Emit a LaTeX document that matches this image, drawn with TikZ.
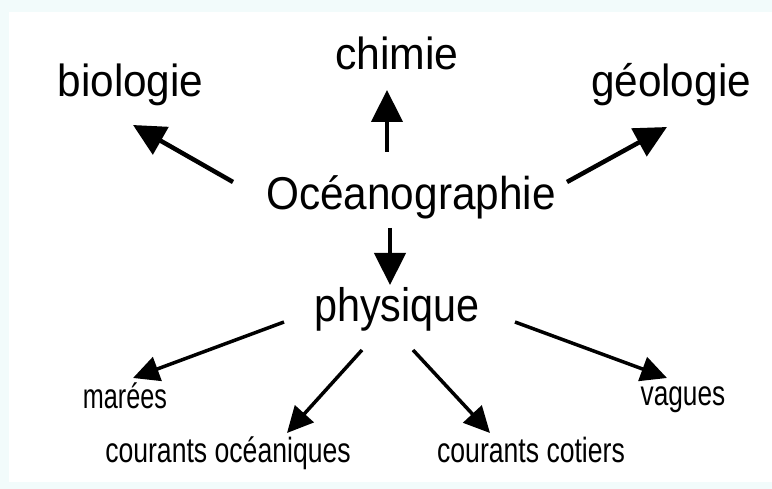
\documentclass[tikz,border=0pt]{standalone}
\usepackage{fontspec}
\setmainfont{Liberation Sans}
\usetikzlibrary{arrows.meta}
\definecolor{edgetint}{HTML}{F2FBFB}
\tikzset{
  big/.style={anchor=base, inner sep=0pt, font=\fontsize{45}{50}\selectfont},
  small/.style={anchor=base, inner sep=0pt, font=\fontsize{35}{40}\selectfont},
  bigarrow/.style={line width=4.5pt, -{Triangle[length=32pt,width=31pt]}},
  smallarrow/.style={line width=3.5pt, -{Triangle[length=26pt,width=25pt]}},
}
\begin{document}
\begin{tikzpicture}[x=1pt,y=-1pt]
\useasboundingbox (0,0) rectangle (772,489);
\fill[edgetint] (0,0) rectangle (772,489);
\fill[white] (9,12) rectangle (772,482);
% labels
\node[big] (bio) at (130.5,97) {\scalebox{0.94}[1]{biologie}};
\node[big] (chi) at (397,70) {\scalebox{0.95}[1]{chimie}};
\node[big] (geo) at (671,97) {\scalebox{0.94}[1]{géologie}};
\node[big, font=\fontsize{46}{50}\selectfont] (oc) at (411,210) {\scalebox{0.92}[1]{Océanographie}};
\node[big, font=\fontsize{47}{50}\selectfont] (phy) at (397,322) {\scalebox{0.88}[1]{physique}};
\node[small] (mar) at (125,408) {\scalebox{0.72}[1]{marées}};
\node[small] (vag) at (683,406) {\scalebox{0.75}[1]{vagues}};
\node[small] (coc) at (228,462) {\scalebox{0.76}[1]{courants océaniques}};
\node[small] (cco) at (531,462) {\scalebox{0.76}[1]{courants cotiers}};
% arrow ends
\coordinate (s1) at (233,182); \coordinate (e1) at (133,125);
\coordinate (s2) at (387,152); \coordinate (e2) at (387,90);
\coordinate (s3) at (567,182); \coordinate (e3) at (667,127);
\coordinate (s4) at (390,228); \coordinate (e4) at (390,285);
\coordinate (s5) at (284,322); \coordinate (e5) at (133,378);
\coordinate (s6) at (362,350); \coordinate (e6) at (287,433);
\coordinate (s7) at (413,350); \coordinate (e7) at (490,433);
\coordinate (s8) at (515,322); \coordinate (e8) at (667,378);
\draw[bigarrow] (s1) -- (e1);
\draw[bigarrow] (s2) -- (e2);
\draw[bigarrow] (s3) -- (e3);
\draw[bigarrow] (s4) -- (e4);
\draw[smallarrow] (s5) -- (e5);
\draw[smallarrow] (s6) -- (e6);
\draw[smallarrow] (s7) -- (e7);
\draw[smallarrow] (s8) -- (e8);
\end{tikzpicture}
\end{document}
